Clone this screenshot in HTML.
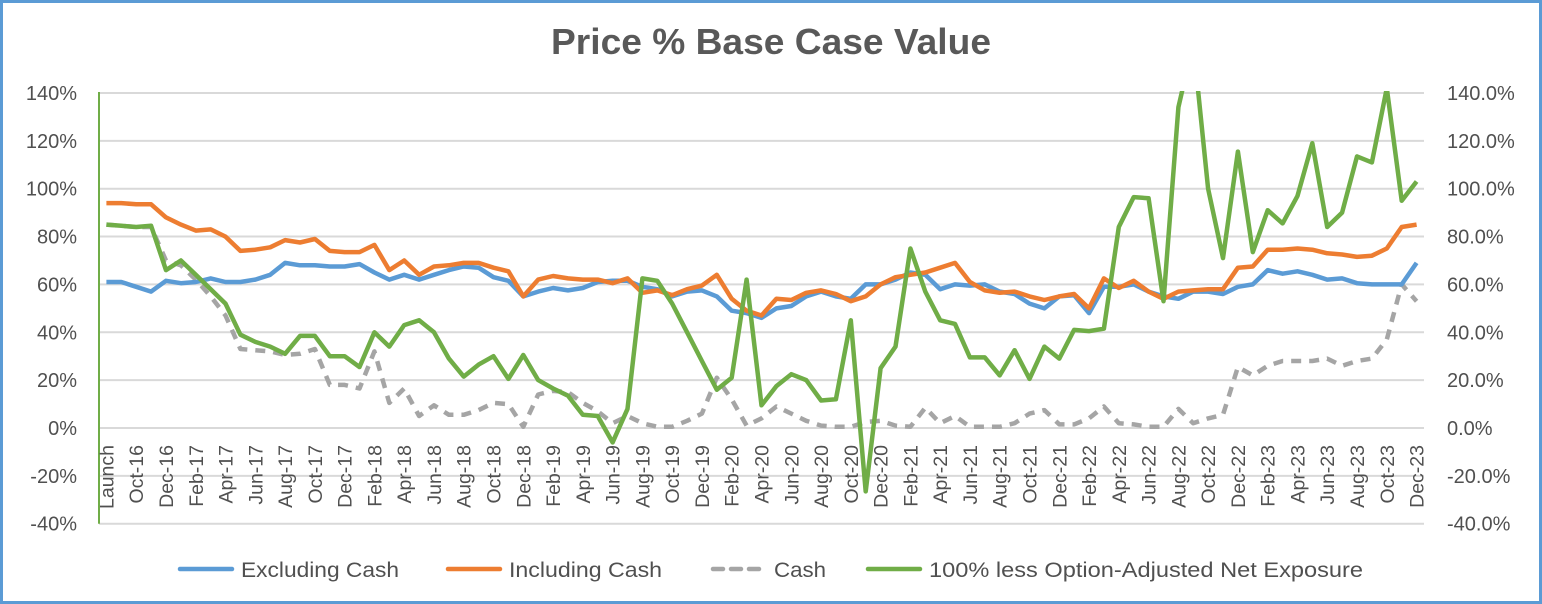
<!DOCTYPE html>
<html><head><meta charset="utf-8"><style>
body{margin:0;background:#fff}
svg{display:block;font-family:"Liberation Sans",sans-serif}
</style></head><body>
<svg id="chart" width="1542" height="604" viewBox="0 0 1542 604">
<rect x="1.5" y="1.5" width="1539" height="601" fill="#fff" stroke="#5b9bd5" stroke-width="3"/>
<text x="551" y="54" textLength="440" lengthAdjust="spacingAndGlyphs" font-size="36" font-weight="bold" fill="#595959">Price % Base Case Value</text>
<g id="grid"></g><g id="yl"></g><g id="yr"></g><g id="xl"></g>
<defs><clipPath id="pc"><rect x="99" y="91" width="1330" height="436"/></clipPath></defs>
<g id="series" clip-path="url(#pc)"></g>
<g id="legend"></g>
</svg>
<script>
const categories=["Launch","Sep-16","Oct-16","Nov-16","Dec-16","Jan-17","Feb-17","Mar-17","Apr-17","May-17","Jun-17","Jul-17","Aug-17","Sep-17","Oct-17","Nov-17","Dec-17","Jan-18","Feb-18","Mar-18","Apr-18","May-18","Jun-18","Jul-18","Aug-18","Sep-18","Oct-18","Nov-18","Dec-18","Jan-19","Feb-19","Mar-19","Apr-19","May-19","Jun-19","Jul-19","Aug-19","Sep-19","Oct-19","Nov-19","Dec-19","Jan-20","Feb-20","Mar-20","Apr-20","May-20","Jun-20","Jul-20","Aug-20","Sep-20","Oct-20","Nov-20","Dec-20","Jan-21","Feb-21","Mar-21","Apr-21","May-21","Jun-21","Jul-21","Aug-21","Sep-21","Oct-21","Nov-21","Dec-21","Jan-22","Feb-22","Mar-22","Apr-22","May-22","Jun-22","Jul-22","Aug-22","Sep-22","Oct-22","Nov-22","Dec-22","Jan-23","Feb-23","Mar-23","Apr-23","May-23","Jun-23","Jul-23","Aug-23","Sep-23","Oct-23","Nov-23","Dec-23"];
const excludingCash=[61,61,59,57,61.5,60.5,61,62.5,61,61,62,64,69,68,68,67.5,67.5,68.5,65,62,64,62,64,66,67.5,67,63,61.5,55,57,58.5,57.5,58.5,61,61.5,61.5,59,58,55,57,57.5,55,49,48,46,50,51,55,57,55,54,60,60,62,65,64,58,60,59.5,60,57,56,52,50,55,55.5,48,59,59,60,57,55,54,57,57,56,59,60,66,64.5,65.5,64,62,62.5,60.5,60,60,60,69];
const includingCash=[94,94,93.5,93.5,88,85,82.5,83,80,74,74.5,75.5,78.5,77.5,79,74,73.5,73.5,76.5,66,70,64,67.5,68,69,69,67,65.5,55,62,63.5,62.5,62,62,60.5,62.5,56.5,57.5,55.5,58,59.5,64,54,49,47,54,53.5,56.5,57.5,56,53,55,60,63,64,65,67,69,61,57.5,56.5,57,55,53.5,55,56,50,62.5,58.5,61.5,57,54,57,57.5,58,58,67,67.5,74.5,74.5,75,74.5,73,72.5,71.5,72,75,84,85];
const cash=[85,84.5,84,84,70,68,62,55,47,33,32.5,32,30.5,31,33,18,18,16.5,32,10.5,16.5,5,9.5,5.5,5.5,7.5,10.5,10,0.5,14,15.5,15,10.5,7,2,5,2,0.5,0.5,3,6,21,12,1,4,9,6,3,1,0.5,0.5,2.5,3,1,0.5,8.5,2,5,0.5,0.5,0.5,2,6,7.5,1.5,1.5,4,9,2,1.5,0.5,0.5,8,2,4,5.5,25.5,22,26,28,28,28,29,26,28,29,37,60,53];
const netExposure=[85,84.5,84,84.5,66,70,64,58,52,39,36,34,31,38.5,38.5,30,30,25.5,40,34,43,45,40,29,21.5,26.5,30,20.5,30.5,20,16.5,13.5,5.5,5,-6,8,62.5,61.5,52,40,28,16,21,62,9.5,17.5,22.5,20,11.5,12,45,-26.5,25,34,75,57,45,43.5,29.5,29.5,22,32.5,20.5,34,29,41,40.5,41.5,84,96.5,96,53,134,161,100,71,115.5,73.5,91,85.5,97,119,84,90,113.5,111,142,95,103];
const leftTicks=["140%","120%","100%","80%","60%","40%","20%","0%","-20%","-40%"];
const rightTicks=["140.0%","120.0%","100.0%","80.0%","60.0%","40.0%","20.0%","0.0%","-20.0%","-40.0%"];
const tickValues=[140,120,100,80,60,40,20,0,-20,-40];

const NS="http://www.w3.org/2000/svg";
const X0=99,X1=1424,Y0=428,PER=2.393;
const n=categories.length,step=(X1-X0)/n;
function xs(i){return X0+(i+0.5)*step;}
function ys(v){return Y0-v*PER;}
function mk(t,a,p){const e=document.createElementNS(NS,t);for(const k in a)e.setAttribute(k,a[k]);p.appendChild(e);return e;}
const grid=document.getElementById('grid'),yl=document.getElementById('yl'),yr=document.getElementById('yr'),xl=document.getElementById('xl');
tickValues.forEach((v,k)=>{
  const l=mk('line',{x1:X0,x2:X1,y1:ys(v),y2:ys(v),stroke:'#d9d9d9','stroke-width':2},grid);
  
  
  const t=mk('text',{x:77,y:ys(v)+7,'text-anchor':'end','font-size':20,fill:'#505050'},yl);
  t.textContent=leftTicks[k];
  
  
  const r=mk('text',{x:1447,y:ys(v)+7,'font-size':20,fill:'#505050'},yr);
  r.textContent=rightTicks[k];
  
  
});
const ax=mk('line',{x1:X0,x2:X0,y1:ys(140)-1,y2:ys(-40),stroke:'#70ad47','stroke-width':2},grid);


categories.forEach((c,i)=>{
  if(i%2)return;
  const x=xs(i)+7;
  const t=mk('text',{x:x,y:445,transform:`rotate(-90 ${x} 445)`,'text-anchor':'end','font-size':19.5,fill:'#505050'},xl);
  t.textContent=c;
  
  
});
const series=document.getElementById('series');
function draw(arr,color,name,dash){
  const pts=arr.map((v,i)=>xs(i).toFixed(1)+','+ys(v).toFixed(1)).join(' ');
  const a={points:pts,fill:'none',stroke:color,'stroke-width':4.5,'stroke-linejoin':'round'};
  if(dash){a['stroke-dasharray']='10 8';}
  const p=mk('polyline',a,series);
  
  
}
draw(cash,'#a5a5a5','cash-line',true);
draw(excludingCash,'#5b9bd5','excluding-cash-line');
draw(includingCash,'#ed7d31','including-cash-line');
draw(netExposure,'#70ad47','net-exposure-line');
const legend=document.getElementById('legend');
[["Excluding Cash","#5b9bd5",180,false,158],["Including Cash","#ed7d31",448,false,153],["Cash","#a5a5a5",713,true,52],["100% less  Option-Adjusted Net Exposure","#70ad47",868,false,434]].forEach(e=>{
  const g=mk('g',{},legend);
  
  
  const a={x1:e[2],x2:e[2]+52,y1:569,y2:569,stroke:e[1],'stroke-width':4.5,'stroke-linecap':'round'};
  if(e[3])a['stroke-dasharray']='10 8';
  mk('line',a,g);
  const t=mk('text',{x:e[2]+61,y:577,'font-size':21,fill:'#505050',textLength:e[4],lengthAdjust:'spacingAndGlyphs'},g);
  t.textContent=e[0];
  
  
});
</script>
</body></html>
